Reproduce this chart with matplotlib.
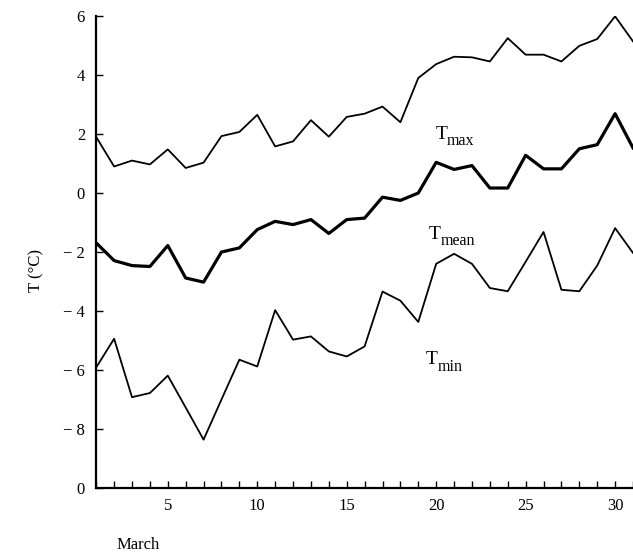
import matplotlib.pyplot as plt
import numpy as np

plt.rcParams['font.family'] = ['Liberation Serif', 'DejaVu Serif']

# daily temperatures, March (deg C)
days = list(range(1, 32))
t_max = [1.9, 0.9, 1.1, 0.97, 1.48, 0.85, 1.03, 1.93, 2.07, 2.65,
         1.58, 1.75, 2.47, 1.91, 2.58, 2.69, 2.93, 2.40, 3.90, 4.37,
         4.62, 4.6, 4.46, 5.25, 4.69, 4.69, 4.46, 4.99, 5.22, 5.99, 5.14]
t_mean = [-1.69, -2.29, -2.46, -2.49, -1.78, -2.88, -3.02, -2.0, -1.86, -1.24,
          -0.96, -1.07, -0.9, -1.37, -0.9, -0.85, -0.14, -0.25, 0.0, 1.04,
          0.8, 0.93, 0.17, 0.17, 1.28, 0.82, 0.82, 1.5, 1.64, 2.69, 1.53]
t_min = [-5.91, -4.94, -6.92, -6.78, -6.19, -7.27, -8.36, -7.0, -5.65, -5.88,
         -3.97, -4.97, -4.86, -5.37, -5.54, -5.2, -3.34, -3.65, -4.37, -2.40,
         -2.06, -2.40, -3.22, -3.33, -2.33, -1.32, -3.28, -3.33, -2.46, -1.19, -2.03]

labels = ['max', 'mean', 'min']
label_pos = [(19.95, 2.0), (19.6, -1.4), (19.4, -5.65)]

yticks = [-10, -8, -6, -4, -2, 0, 2, 4, 6]
ylabels = ['0', '\u2212 8', '\u2212 6', '\u2212 4', '\u2212 2', '0', '2', '4', '6']
xticks = [5, 10, 15, 20, 25, 30]

fig = plt.figure(figsize=(6.33, 5.53), dpi=100)
ax = fig.add_axes([0.152, 0.1175, 0.848, 0.8535])

ax.plot(days, t_max, color='black', lw=1.3)
ax.plot(days, t_mean, color='black', lw=2.3)
ax.plot(days, t_min, color='black', lw=1.3)

# "T" with a large subscript, as in the figure
for lab, (x, y) in zip(labels, label_pos):
    ax.text(x, y, 'T', fontsize=14, va='center')
    ax.annotate(lab, (x, y), xytext=(8.5, -5), textcoords='offset points',
                fontsize=11.5, va='center')

ax.set_xlim(1, 31)
ax.set_ylim(-10, 6)
ax.set_yticks(yticks)
ax.set_yticklabels(ylabels)
ax.set_xticks(xticks)
ax.set_xticks(days, minor=True)

for s in ['top', 'right']:
    ax.spines[s].set_visible(False)
for s in ['left', 'bottom']:
    ax.spines[s].set_linewidth(1.6)

ax.tick_params(axis='both', which='both', direction='in', length=5, width=1.0, labelsize=12)
ax.tick_params(axis='x', pad=7)
ax.tick_params(axis='y', pad=8)

fig.text(0.057, 0.51, 'T (\u00b0C)', rotation=90, fontsize=12, ha='center', va='center')
fig.text(0.218, 0.0145, 'March', fontsize=12, ha='center', va='center')

fig.savefig('out.png', dpi=100)
